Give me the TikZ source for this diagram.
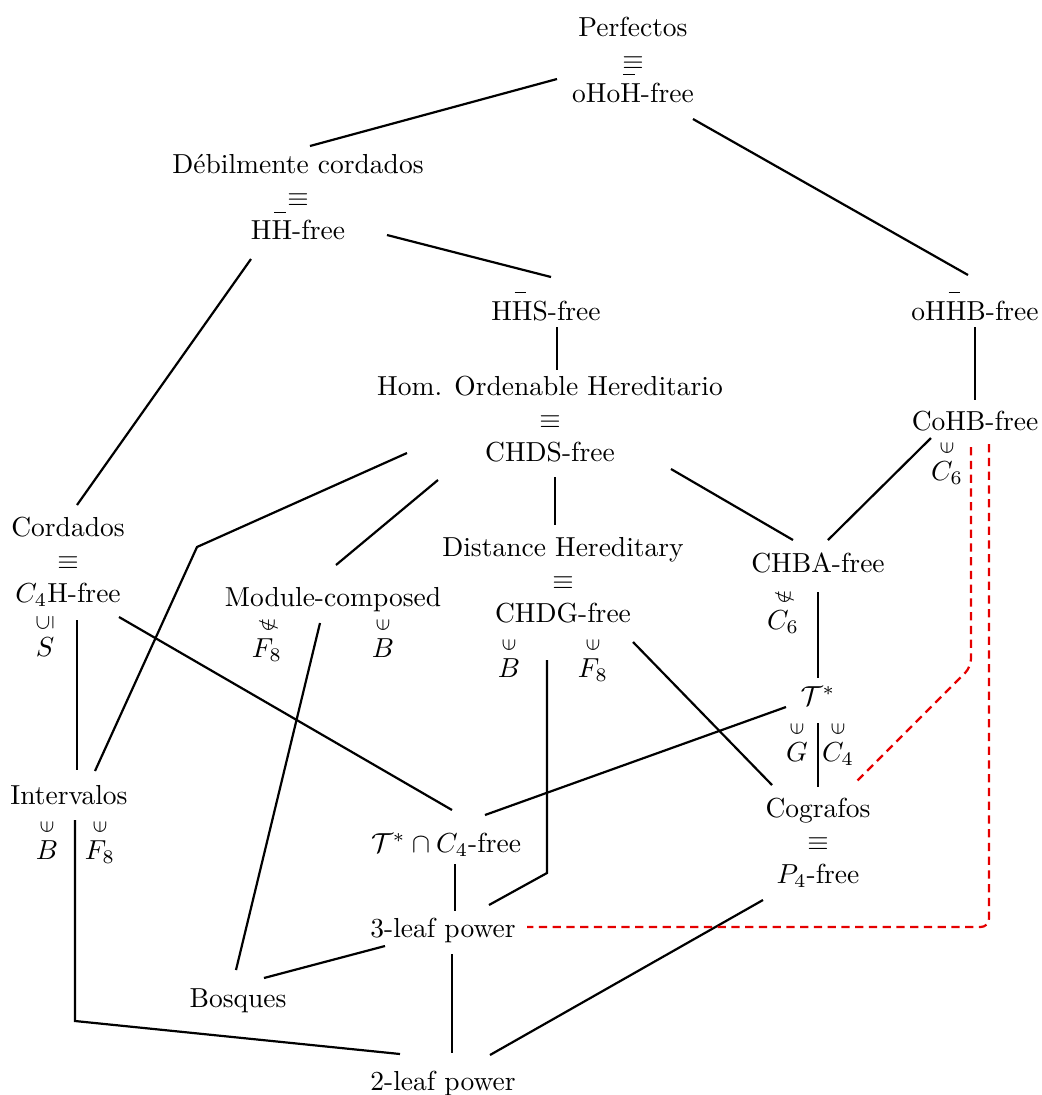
\documentclass[tikz,border=0pt]{standalone}
\usepackage{amsmath,amssymb,graphicx}
% relation mark set above a graph name
\newcommand\ovin[1]{\overset{\rotatebox{90}{$\scriptstyle\in$}}{#1}}
\newcommand\ovnotin[1]{\overset{\rotatebox{90}{$\scriptstyle\notin$}}{#1}}
\newcommand\ovsub[1]{\overset{\rotatebox{90}{$\scriptstyle\subseteq$}}{#1}}
% complement of H: an H with a short raised bar
\newcommand\Hb{\leavevmode\rlap{\hspace{1pt}\rule[9.8pt]{4.2pt}{0.4pt}}H}
\begin{document}
\begin{tikzpicture}[x=0.3636pt,y=-0.3636pt,
  cls/.style={inner sep=1pt},
  blk/.style={inner sep=1pt,align=center},
  rel/.style={inner sep=0pt,anchor=base},
  edge/.style={thick},
  redlink/.style={thick,red!90!black,dash pattern=on 3pt off 2pt,rounded corners=3pt}]
\useasboundingbox (0,0) rectangle (1042,1095);

% graph classes
\node[blk] (perf) at (633,59.5) {Perfectos\\$\equiv$\\oHo\Hb-free};
\node[blk] (deb) at (298,197.5) {D\'ebilmente cordados\\$\equiv$\\H\Hb-free};
\node[cls,anchor=base] (hhs) at (546,320) {H\Hb S-free};
\node[cls,anchor=base] (ohhb) at (975,320) {oH\Hb B-free};
\node[blk] (hom) at (550,419.5) {Hom. Ordenable Hereditario\\$\equiv$\\CHDS-free};
\node[cls,anchor=base] (cohb) at (975,430) {CoHB-free};
\node[blk] (cord) at (68,561.5) {Cordados\\$\equiv$\\$C_4$H-free};
\node[cls,anchor=base] (modc) at (333,606) {Module-composed};
\node[blk] (dh) at (563,580.5) {Distance Hereditary\\$\equiv$\\CHDG-free};
\node[cls,anchor=base] (chba) at (818,572) {CHBA-free};
\node[cls,anchor=base] (tstar) at (818,705) {$\mathcal{T}^*$};
\node[cls,anchor=base] (interv) at (69,804) {Intervalos};
\node[cls,anchor=base] (tc4) at (446,852) {$\mathcal{T}^*\cap C_4$-free};
\node[blk] (cog) at (818,842.5) {Cografos\\$\equiv$\\$P_4$-free};
\node[cls,anchor=base] (l3) at (443,937) {3-leaf power};
\node[cls,anchor=base] (bosq) at (238,1007) {Bosques};
\node[cls,anchor=base] (l2) at (443,1090) {2-leaf power};

% separating graphs
\node[rel] (rc6a) at (947,480) {$\ovin{C_6}$};
\node[rel] (rs) at (45,656) {$\ovsub{S}$};
\node[rel] (rf8a) at (267,657) {$\ovnotin{F_8}$};
\node[rel] (rba) at (383,657) {$\ovin{B}$};
\node[rel] (rbb) at (509,677) {$\ovin{B}$};
\node[rel] (rf8b) at (593,677) {$\ovin{F_8}$};
\node[rel] (rc6b) at (783,629) {$\ovnotin{C_6}$};
\node[rel] (rg) at (797,761) {$\ovin{G}$};
\node[rel] (rc4) at (838,761) {$\ovin{C_4}$};
\node[rel] (rbc) at (47,859) {$\ovin{B}$};
\node[rel] (rf8c) at (100,859) {$\ovin{F_8}$};

% bends
\coordinate (kA) at (197,547);
\coordinate (kB) at (547,873);
\coordinate (kC) at (75,1021);
\coordinate (kD) at (971,667);
\coordinate (kE) at (989,927);

% inclusions
\draw[edge] ([shift={(-76,19.5)}]perf.center) -- ([shift={(12,-51.5)}]deb.center);
\draw[edge] ([shift={(60,59.5)}]perf.center) -- ([shift={(-7,-45)}]ohhb.base);
\draw[edge] ([shift={(89,37.5)}]deb.center) -- ([shift={(5,-43)}]hhs.base);
\draw[edge] ([shift={(-47,61.5)}]deb.center) -- ([shift={(9,-56.5)}]cord.center);
\draw[edge] ([shift={(11,7)}]hhs.base) -- ([shift={(7,-49.5)}]hom.center);
\draw[edge] ([shift={(0,7)}]ohhb.base) -- ([shift={(0,-30)}]cohb.base);
\draw[edge] ([shift={(-143,33.5)}]hom.center) -- (kA) -- ([shift={(26,-33)}]interv.base);
\draw[edge] ([shift={(-112,60.5)}]hom.center) -- ([shift={(3,-41)}]modc.base);
\draw[edge] ([shift={(5,57.5)}]hom.center) -- ([shift={(-8,-55.5)}]dh.center);
\draw[edge] ([shift={(121,49.5)}]hom.center) -- ([shift={(-25,-32)}]chba.base);
\draw[edge] ([shift={(-44,8)}]cohb.base) -- ([shift={(10,-32)}]chba.base);
\draw[edge] ([shift={(9,58.5)}]cord.center) -- ([shift={(8,-34)}]interv.base);
\draw[edge] ([shift={(51,55.5)}]cord.center) -- ([shift={(6,-42)}]tc4.base);
\draw[edge] ([shift={(-13,17)}]modc.base) -- ([shift={(-2,-37)}]bosq.base);
\draw[edge] ([shift={(-16,79.5)}]dh.center) -- (kB) -- ([shift={(46,-32)}]l3.base);
\draw[edge] ([shift={(70,61.5)}]dh.center) -- ([shift={(-46,-57.5)}]cog.center);
\draw[edge] ([shift={(0,20)}]chba.base) -- ([shift={(0,-27)}]tstar.base);
\draw[edge] ([shift={(-32,2)}]tstar.base) -- ([shift={(39,-37)}]tc4.base);
\draw[edge] ([shift={(0,18)}]tstar.base) -- ([shift={(0,-55.5)}]cog.center);
\draw[edge] ([shift={(9,12)}]tc4.base) -- ([shift={(12,-26)}]l3.base);
\draw[edge] ([shift={(6,16)}]interv.base) -- (kC) -- ([shift={(-43,-36)}]l2.base);
\draw[edge] ([shift={(-58,9)}]l3.base) -- ([shift={(26,-29)}]bosq.base);
\draw[edge] ([shift={(9,17)}]l3.base) -- ([shift={(9,-37)}]l2.base);
\draw[edge] ([shift={(-55,57.5)}]cog.center) -- ([shift={(47,-35)}]l2.base);

% open questions
\draw[redlink] ([shift={(-4,17)}]cohb.base) -- (kD) -- ([shift={(37,-59.5)}]cog.center);
\draw[redlink] ([shift={(14,14)}]cohb.base) -- (kE) -- ([shift={(84,-10)}]l3.base);
\end{tikzpicture}
\end{document}
